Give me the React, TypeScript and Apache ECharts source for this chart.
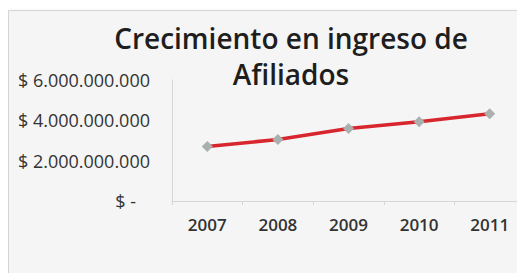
import React, { useEffect, useRef } from "react";
import * as echarts from "echarts";

const years = ["2007", "2008", "2009", "2010", "2011"];
const ingresos = [2700000000, 3050000000, 3590000000, 3930000000, 4330000000];
const yTicks = [0, 2000000000, 4000000000, 6000000000];
const titleLines = ["Crecimiento en ingreso de", "Afiliados"];

function fmt(v: number): string {
  if (v === 0) return "$ -   ";
  const s = Math.round(v).toString().replace(/\B(?=(\d{3})+(?!\d))/g, ".");
  return "$ " + s;
}

export default function App() {
  const ref = useRef<HTMLDivElement>(null);
  useEffect(() => {
    document.documentElement.style.overflow = "hidden";
    document.body.style.overflow = "hidden";
    const chart = echarts.init(ref.current!, undefined, { renderer: "svg" });
    chart.setOption({
      animation: false,
      backgroundColor: "#fcfcfc",
      graphic: [
        {
          type: "rect",
          z: -10,
          shape: { x: 0.5, y: 2.5, width: 700, height: 400 },
          style: { fill: "#f5f5f5", stroke: "#d4d4d4", lineWidth: 1 },
        },
      ],
      title: {
        text: titleLines.join("\n"),
        left: 283,
        top: 12,
        padding: 0,
        textAlign: "center",
        textStyle: {
          fontFamily: "Open Sans",
          fontWeight: 600,
          fontSize: 28,
          lineHeight: 36,
          color: "#1e1e1e",
        },
      },
      grid: { left: 164, top: 72, right: -6, bottom: 72, containLabel: false },
      xAxis: {
        type: "category",
        data: years,
        boundaryGap: true,
        axisLine: { lineStyle: { color: "#d6d6d6", width: 1 } },
        axisTick: { show: true, length: 4, lineStyle: { color: "#d6d6d6" } },
        axisLabel: {
          color: "#333",
          fontFamily: "Open Sans",
          fontWeight: 600,
          fontSize: 17,
          margin: 15,
        },
      },
      yAxis: {
        type: "value",
        min: 0,
        max: 6000000000,
        interval: 2000000000,
        axisLine: { show: true, lineStyle: { color: "#d6d6d6", width: 1 } },
        axisTick: { show: false },
        splitLine: { show: false },
        axisLabel: {
          color: "#333",
          fontFamily: "Open Sans",
          fontSize: 18,
          margin: 22,
          formatter: (v: number) => (yTicks.includes(v) ? fmt(v) : ""),
        },
      },
      series: [
        {
          type: "line",
          data: ingresos,
          lineStyle: { color: "#d8262e", width: 3.5 },
          itemStyle: { color: "#a9b0ae" },
          symbol: "diamond",
          symbolSize: 11,
          showSymbol: true,
        },
      ],
    });
    return () => chart.dispose();
  }, []);
  return <div ref={ref} style={{ width: 517, height: 265 }} />;
}
